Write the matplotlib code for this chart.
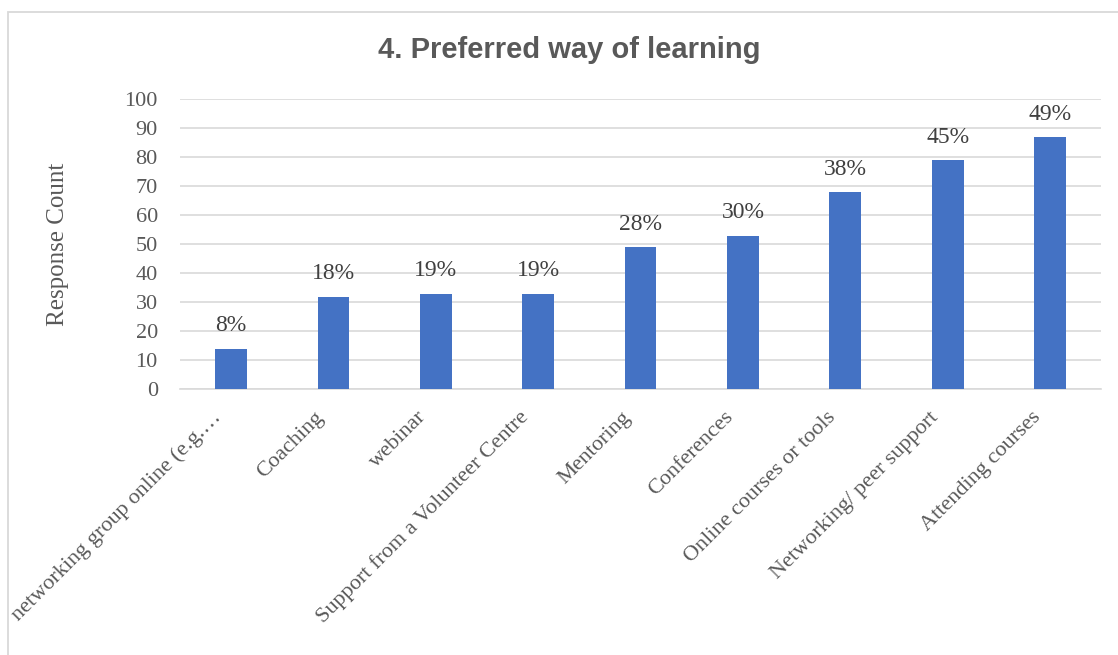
import matplotlib
matplotlib.use("Agg")
import matplotlib.pyplot as plt
from matplotlib.patches import Rectangle
from matplotlib.transforms import ScaledTranslation

# data
categories = ["networking group online (e.g.\u2026", "Coaching", "webinar",
              "Support from a Volunteer Centre", "Mentoring", "Conferences",
              "Online courses or tools", "Networking/ peer support",
              "Attending courses"]
counts = [14, 32, 33, 33, 49, 53, 68, 79, 87]
pct_labels = ["8%", "18%", "19%", "19%", "28%", "30%", "38%", "45%", "49%"]
y_ticks = [0, 10, 20, 30, 40, 50, 60, 70, 80, 90, 100]

serif = "Liberation Serif"
grey = "#595959"

fig = plt.figure(figsize=(11.18, 6.55), dpi=100)
ax = fig.add_axes([0.161, 0.4056, 0.824, 0.4428])

# light border around the chart area (left and top visible)
fig.patches.append(Rectangle((7.5 / 1118, -0.1), 1.2, 1.1 - 12.5 / 655,
                             transform=fig.transFigure, fill=False,
                             edgecolor="#d9d9d9", linewidth=1.3))

x = list(range(len(categories)))
ax.bar(x, counts, width=0.31, color="#4472c4", zorder=3)

for xi, c, lab in zip(x, counts, pct_labels):
    ax.annotate(lab, (xi, c), xytext=(0, 12.6), textcoords="offset points",
                ha="center", va="baseline", fontsize=17, family=serif,
                color="#404040")

ax.set_xlim(-0.5, len(categories) - 0.5)
ax.set_ylim(0, 100)
ax.set_yticks(y_ticks)
ax.yaxis.grid(True, color="#d9d9d9", linewidth=1.2, zorder=0)
ax.set_axisbelow(True)
for s in ["top", "right", "left"]:
    ax.spines[s].set_visible(False)
ax.spines["bottom"].set_color("#d9d9d9")
ax.spines["bottom"].set_linewidth(1.2)
ax.tick_params(axis="both", length=0, labelsize=16, labelcolor=grey)
ax.tick_params(axis="y", pad=16)

ax.set_xticks(x)
ax.set_xticklabels(categories, rotation=45, ha="right", va="bottom",
                   rotation_mode="anchor", family=serif, fontsize=16,
                   color=grey)
ax.tick_params(axis="x", pad=23)
shift = ScaledTranslation(-4 / 72, 0, fig.dpi_scale_trans)
for t in ax.get_xticklabels():
    t.set_transform(t.get_transform() + shift)
for t in ax.get_yticklabels():
    t.set_family(serif)

ax.set_ylabel("Response Count", family=serif, fontsize=18, color=grey)
ax.yaxis.set_label_coords(-0.12, 0.5)

fig.text(0.509, 1 - 50 / 655, "4. Preferred way of learning", ha="center",
         va="center", fontsize=21, fontweight="bold",
         family="Liberation Sans", color=grey)

fig.savefig("out.png", dpi=100)
